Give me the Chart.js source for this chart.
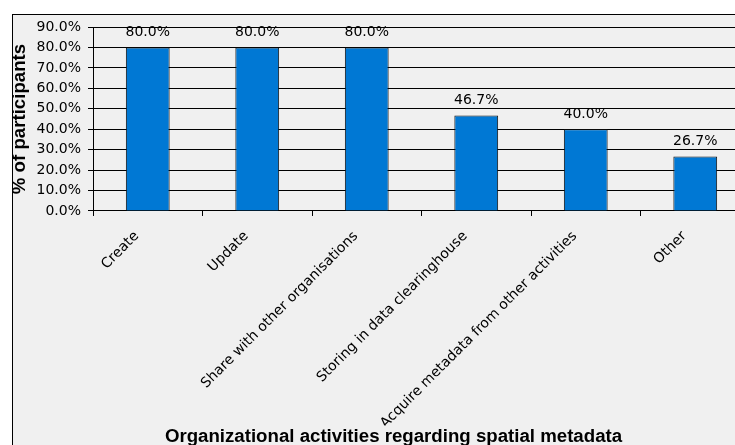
<!DOCTYPE html>
<html>
<head>
<meta charset="utf-8">
<script src="https://cdn.jsdelivr.net/npm/chart.js@4/dist/chart.umd.min.js"></script>
<style>
  html, body { margin: 0; padding: 0; width: 735px; height: 445px; overflow: hidden; background: #ffffff; }
  #frame { position: absolute; left: 12px; top: 14px; width: 800px; height: 500px; border: 1px solid #000; background: #f0f0f0; }
  #c { position: absolute; left: 0; top: 0; z-index: 2; }
</style>
</head>
<body>
<div id="frame"></div>
<canvas id="c" width="787" height="460"></canvas>
<script>
const categories = [
  "Create",
  "Update",
  "Share with other organisations",
  "Storing in data clearinghouse",
  "Acquire metadata from other activities",
  "Other"
];
const percentValues = [80.0, 80.0, 80.0, 46.7, 40.0, 26.7];
const yTickValues = [0, 10, 20, 30, 40, 50, 60, 70, 80, 90];
const xAxisTitle = "Organizational activities regarding spatial metadata";
const yAxisTitle = "% of participants";

const tickFont = { family: "'DejaVu Sans', Verdana, sans-serif", size: 14 };
const titleFont = { family: "'Liberation Sans', Arial, sans-serif", size: 18.67, weight: "bold" };

const valueLabels = {
  id: "valueLabels",
  afterDatasetsDraw(chart) {
    const ctx = chart.ctx;
    const meta = chart.getDatasetMeta(0);
    ctx.save();
    ctx.font = "14px 'DejaVu Sans', Verdana, sans-serif";
    ctx.fillStyle = "#000";
    ctx.textAlign = "center";
    ctx.textBaseline = "middle";
    meta.data.forEach((bar, i) => {
      ctx.fillText(percentValues[i].toFixed(1) + "%", bar.x, bar.y - 15);
    });
    ctx.restore();
  }
};

new Chart(document.getElementById("c"), {
  type: "bar",
  data: {
    labels: categories,
    datasets: [{
      data: percentValues,
      backgroundColor: "#0078D4",
      borderColor: "#111",
      borderWidth: 1,
      categoryPercentage: 1.0,
      barPercentage: 0.4
    }]
  },
  options: {
    responsive: false,
    animation: false,
    layout: { padding: { left: 37, top: 27, right: 37, bottom: 0 } },
    plugins: {
      legend: { display: false },
      tooltip: { enabled: false },
      title: {
        display: true,
        position: "bottom",
        text: xAxisTitle,
        color: "#000",
        font: titleFont,
        padding: { top: 0, bottom: 12 }
      }
    },
    scales: {
      x: {
        grid: {
          display: true,
          drawOnChartArea: false,
          drawTicks: true,
          tickLength: 5,
          color: "#000",
          offset: true
        },
        border: { display: true, color: "#000" },
        ticks: {
          color: "#000",
          font: tickFont,
          autoSkip: false,
          maxRotation: 45,
          minRotation: 45,
          padding: 12,
          labelOffset: -11
        },
        afterFit(scale) { scale.height = 214.6; }
      },
      y: {
        min: 0,
        max: 90,
        afterBuildTicks(scale) { scale.ticks = yTickValues.map(v => ({ value: v })); },
        grid: {
          color: "#000",
          drawTicks: true,
          tickLength: 5
        },
        border: { display: true, color: "#000" },
        ticks: {
          color: "#000",
          font: tickFont,
          padding: 7,
          callback: (v) => Number(v).toFixed(1) + "%"
        },
        title: {
          display: true,
          text: yAxisTitle,
          color: "#000",
          font: titleFont,
          padding: { top: -28, bottom: 0 }
        },
        afterFit(scale) { scale.width = 56; }
      }
    }
  },
  plugins: [valueLabels]
});
</script>
</body>
</html>
